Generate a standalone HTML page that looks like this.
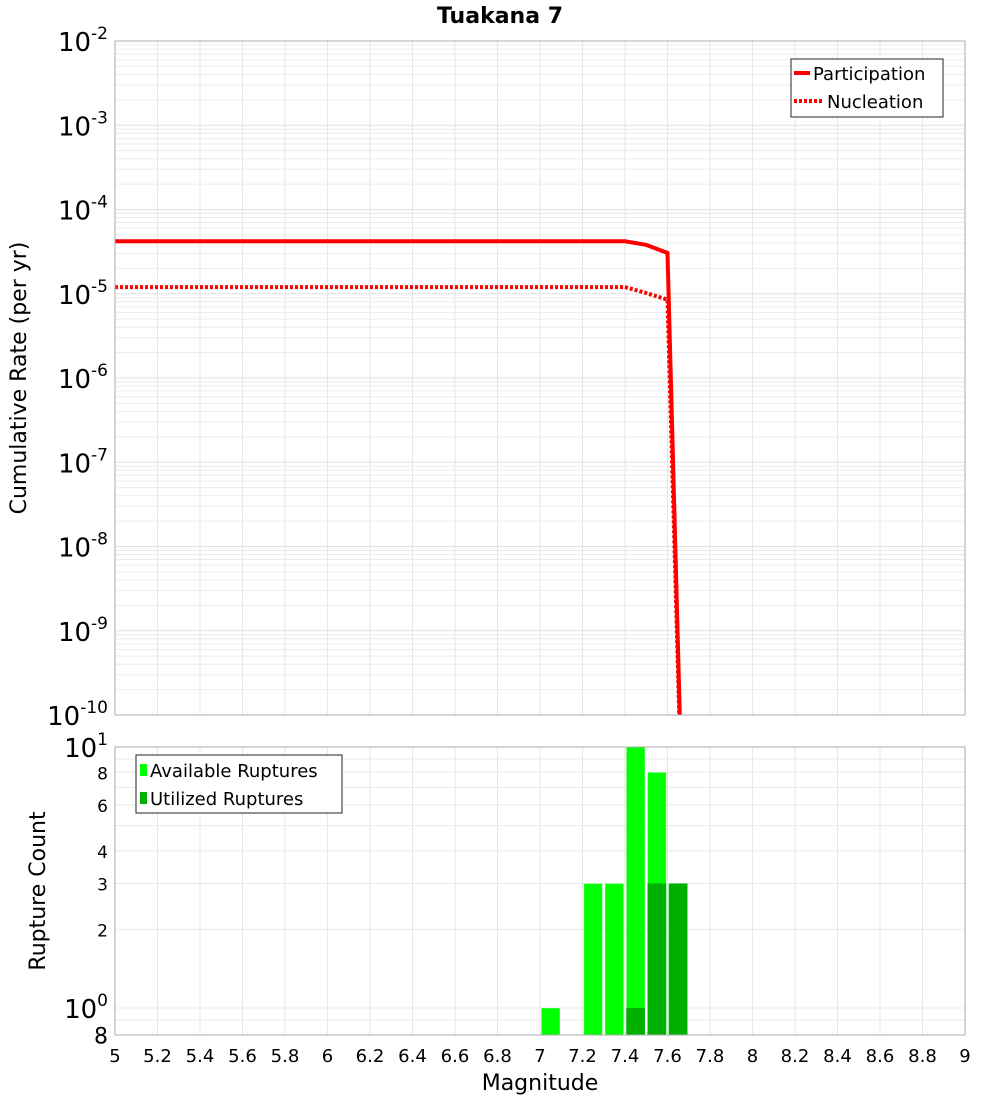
<!DOCTYPE html>
<html><head><meta charset="utf-8"><style>
body{margin:0;background:#fff;}
svg text{font-family:"DejaVu Sans","Liberation Sans",sans-serif;}
</style></head><body>
<svg id="c" width="1000" height="1100" xmlns="http://www.w3.org/2000/svg">
<text x="500" y="23" text-anchor="middle" font-size="22" font-weight="bold">Tuakana 7</text>
<g id="topg"></g>
<g id="botg"></g>
<text transform="translate(26,378) rotate(-90)" text-anchor="middle" font-size="22">Cumulative Rate (per yr)</text>
<text transform="translate(45,891) rotate(-90)" text-anchor="middle" font-size="22">Rupture Count</text>
<text x="540" y="1090" text-anchor="middle" font-size="22">Magnitude</text>
<g>
<rect x="791" y="59" width="152" height="58" fill="#fff" stroke="#222" stroke-width="1"/>
<line x1="794" y1="73" x2="810" y2="73" stroke="red" stroke-width="4"/>
<text x="813" y="80" font-size="18">Participation</text>
<line x1="794" y1="101" x2="822" y2="101" stroke="red" stroke-width="4" stroke-dasharray="3,2"/>
<text x="827" y="108" font-size="18">Nucleation</text>
</g>
<g>
<rect x="136" y="755" width="206" height="58" fill="#fff" stroke="#222" stroke-width="1"/>
<rect x="140" y="764" width="7" height="12" fill="#00ff00"/>
<text x="150" y="777" font-size="18">Available Ruptures</text>
<rect x="140" y="792" width="7" height="12" fill="#00b000"/>
<text x="150" y="805" font-size="18">Utilized Ruptures</text>
</g>
</svg>
<script>
const xTicks=[5,5.2,5.4,5.6,5.8,6,6.2,6.4,6.6,6.8,7,7.2,7.4,7.6,7.8,8,8.2,8.4,8.6,8.8,9];
const partMag=[5,7.4,7.5,7.6,7.7];
const partRate=[4.2e-5,4.2e-5,3.8e-5,3.05e-5,1e-14];
const nuclMag=[5,7.4,7.5,7.6,7.7];
const nuclRate=[1.2e-5,1.2e-5,1.02e-5,8.5e-6,1e-14];
const barMag=[7.05,7.25,7.35,7.45,7.55,7.65];
const availCount=[1,3,3,10,8,3];
const utilCount=[0,0,0,1,3,3];
const rateExp=[-2,-3,-4,-5,-6,-7,-8,-9,-10];
const countTicks=[10,8,6,4,3,2,1,0.8];
const NS='http://www.w3.org/2000/svg';
const L=115,R=965;
const T1=41,B1=715,T2=747,B2=1035;
const xs=m=>L+(m-5)/(9-5)*(R-L);
const yR=v=>T1+(-2-Math.log10(v))/8*(B1-T1);
const yC=v=>1008-Math.log10(v)*261;
function mk(p,t,a){const e=document.createElementNS(NS,t);for(const k in a)e.setAttribute(k,a[k]);p.appendChild(e);return e;}
const topG=document.getElementById('topg'),botG=document.getElementById('botg');
const defs=mk(document.getElementById('c'),'defs',{});
const c1=mk(defs,'clipPath',{id:'c1'});mk(c1,'rect',{x:L,y:T1,width:R-L,height:B1-T1});
const c2=mk(defs,'clipPath',{id:'c2'});mk(c2,'rect',{x:L,y:T2,width:R-L,height:B2-T2});
for(let d=-10;d<-2;d++){for(let k=1;k<10;k++){const y=yR(k*Math.pow(10,d));const g=mk(topG,'line',{x1:L,x2:R,y1:y,y2:y,stroke:k==1?'#e0e0e0':'#ececec','stroke-width':1});

}}
xTicks.forEach(t=>{const g=mk(topG,'line',{x1:xs(t),x2:xs(t),y1:T1,y2:B1,stroke:'#e6e6e6'});


const g2=mk(botG,'line',{x1:xs(t),x2:xs(t),y1:T2,y2:B2,stroke:'#e6e6e6'});


const tx=mk(botG,'text',{x:xs(t),y:1062,'text-anchor':'middle','font-size':18});tx.textContent=String(t);

});
rateExp.forEach(e=>{const y=yR(Math.pow(10,e));const t=mk(topG,'text',{x:108,y:y+10,'text-anchor':'end','font-size':26});
t.innerHTML='10<tspan dy="-12" font-size="17">'+e+'</tspan>';

});
function pth(mags,vals){return mags.map((m,i)=>(i?'L':'M')+xs(m)+','+yR(vals[i])).join(' ');}
const lp=mk(topG,'path',{d:pth(partMag,partRate),fill:'none',stroke:'red','stroke-width':4,'clip-path':'url(#c1)'});


const ln=mk(topG,'path',{d:pth(nuclMag,nuclRate),fill:'none',stroke:'red','stroke-width':4,'stroke-dasharray':'3,2','clip-path':'url(#c1)'});


mk(topG,'rect',{x:L,y:T1,width:R-L,height:B1-T1,fill:'none',stroke:'#aaa'});
[0.9,1,2,3,4,5,6,7,8,9,10].forEach(v=>{const y=yC(v);const g=mk(botG,'line',{x1:L,x2:R,y1:y,y2:y,stroke:'#e8e8e8'});

});
countTicks.forEach(v=>{const y=Math.min(yC(v),1035);let t;
if(v==10||v==1){t=mk(botG,'text',{x:108,y:y+10,'text-anchor':'end','font-size':26});t.innerHTML='10<tspan dy="-12" font-size="17">'+(v==10?1:0)+'</tspan>';}
else if(v<1){t=mk(botG,'text',{x:108,y:y+10,'text-anchor':'end','font-size':22});t.textContent='8';}
else{t=mk(botG,'text',{x:108,y:y+7,'text-anchor':'end','font-size':17});t.textContent=String(v);}

});
const bw=0.088;
barMag.forEach((m,i)=>{if(availCount[i]>0){const y=yC(availCount[i]);const r=mk(botG,'rect',{x:xs(m-bw/2),y:y,width:xs(m+bw/2)-xs(m-bw/2),height:B2-y,fill:'#00ff00',stroke:'#fff','stroke-opacity':0.4,'clip-path':'url(#c2)'});

}
if(utilCount[i]>0){const y=yC(utilCount[i]);const r=mk(botG,'rect',{x:xs(m-bw/2),y:y,width:xs(m+bw/2)-xs(m-bw/2),height:B2-y,fill:'#00b000','clip-path':'url(#c2)'});

}});
mk(botG,'rect',{x:L,y:T2,width:R-L,height:B2-T2,fill:'none',stroke:'#aaa'});
</script>
</body></html>
